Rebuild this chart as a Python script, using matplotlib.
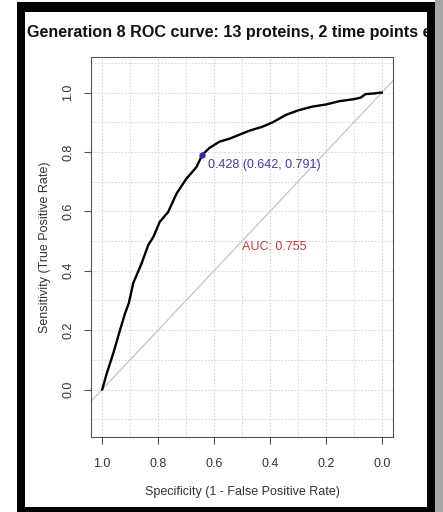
import numpy as np
import matplotlib
matplotlib.use("Agg")
import matplotlib.pyplot as plt
from matplotlib.patches import Rectangle

plt.rcParams['font.family'] = ['Liberation Sans', 'DejaVu Sans']

# ----------------- data -----------------
title = "Generation 8 ROC curve: 13 proteins, 2 time points e"
specificity = [1.000, 0.983, 0.960, 0.936, 0.918, 0.905, 0.889, 0.859, 0.835,
               0.817, 0.794, 0.764, 0.734, 0.699, 0.663, 0.642, 0.616, 0.580,
               0.544, 0.510, 0.473, 0.430, 0.390, 0.343, 0.300, 0.248, 0.200,
               0.153, 0.100, 0.076, 0.058, 0.030, 0.005, 0.000]
sensitivity = [0.000, 0.056, 0.123, 0.201, 0.257, 0.290, 0.358, 0.425, 0.487,
               0.514, 0.565, 0.598, 0.660, 0.710, 0.749, 0.791, 0.814, 0.835,
               0.845, 0.858, 0.872, 0.884, 0.900, 0.925, 0.940, 0.953, 0.960,
               0.971, 0.978, 0.983, 0.995, 0.997, 1.000, 1.000]
best_thres = 0.428
best_spec = 0.642
best_sens = 0.791
auc = 0.755
tick_vals = [0.0, 0.2, 0.4, 0.6, 0.8, 1.0]

W, H = 443, 512
fig = plt.figure(figsize=(W / 100, H / 100), dpi=100)
fig.patch.set_facecolor('white')

def fx(px):
    return px / W

def fy(py):
    return 1 - py / H

# plot region: x 91..393, y 57..437 px
ax = fig.add_axes([fx(91), fy(437), fx(393) - fx(91), fy(57) - fy(437)])
ax.set_xlim(1.04, -0.04)
ax.set_ylim(-0.16, 1.12)

# grid every 0.1
for g in np.arange(0, 1.01, 0.1):
    ax.axvline(g, color='#d8d8d8', lw=0.8, ls=(0, (1.5, 1.5)), zorder=0)
for g in np.arange(-0.1, 1.11, 0.1):
    ax.axhline(g, color='#d8d8d8', lw=0.8, ls=(0, (1.5, 1.5)), zorder=0)

# chance diagonal
ax.plot([1.2, -0.2], [-0.2, 1.2], color='#c8c8c8', lw=1.0, zorder=1)

# ROC curve
ax.plot(specificity, sensitivity, color='black', lw=1.7, zorder=3)
ax.plot([best_spec], [best_sens], 'o', color='#2a2ab0', ms=3.5, zorder=4)
ax.text(best_spec - 0.019, best_sens - 0.016,
        f"{best_thres:.3f} ({best_spec:.3f}, {best_sens:.3f})",
        color='#3b3ba8', fontsize=9, ha='left', va='top')
ax.text(0.5, 0.5, f"AUC: {auc:.3f}", color='#c43c3c', fontsize=9,
        ha='left', va='top')

ax.set_xticks(tick_vals)
ax.set_xticklabels([f"{v:.1f}" for v in tick_vals])
ax.set_yticks(tick_vals)
ax.set_yticklabels([f"{v:.1f}" for v in tick_vals], rotation=90, va='center')
ax.tick_params(axis='both', direction='out', length=5, width=0.8,
               color='#555555', labelcolor='#333333', labelsize=9)
ax.tick_params(axis='x', pad=10)
ax.tick_params(axis='y', pad=7)
for s in ax.spines.values():
    s.set_color('#555555')
    s.set_linewidth(0.8)

ax.set_xlabel("Specificity (1 - False Positive Rate)", fontsize=9,
              color='#333333', labelpad=12)
ax.set_ylabel("Sensitivity (True Positive Rate)", fontsize=9,
              color='#333333', labelpad=8)

# title, cut off by the frame on the right (as in the screenshot)
fig.text(fx(27), fy(32), title, fontsize=11.6, weight='bold',
         ha='left', va='center', color='#111111')

# ----------------- screenshot frame -----------------
def box(x0, y0, x1, y1, color):
    fig.add_artist(Rectangle((fx(x0), fy(y1)), fx(x1) - fx(x0), fy(y0) - fy(y1),
                             transform=fig.transFigure, facecolor=color,
                             edgecolor='none', zorder=20))

box(0, 0, 17, H, 'white')
box(0, 0, W, 2, 'white')
box(17, 2, 435, 12, 'black')
box(17, 2, 25, H, 'black')
box(427, 2, 435, H, 'black')
box(17, 507, 435, H, 'black')
box(435, 0, W, H, '#a6a6a6')

fig.savefig("out.png", dpi=100)
